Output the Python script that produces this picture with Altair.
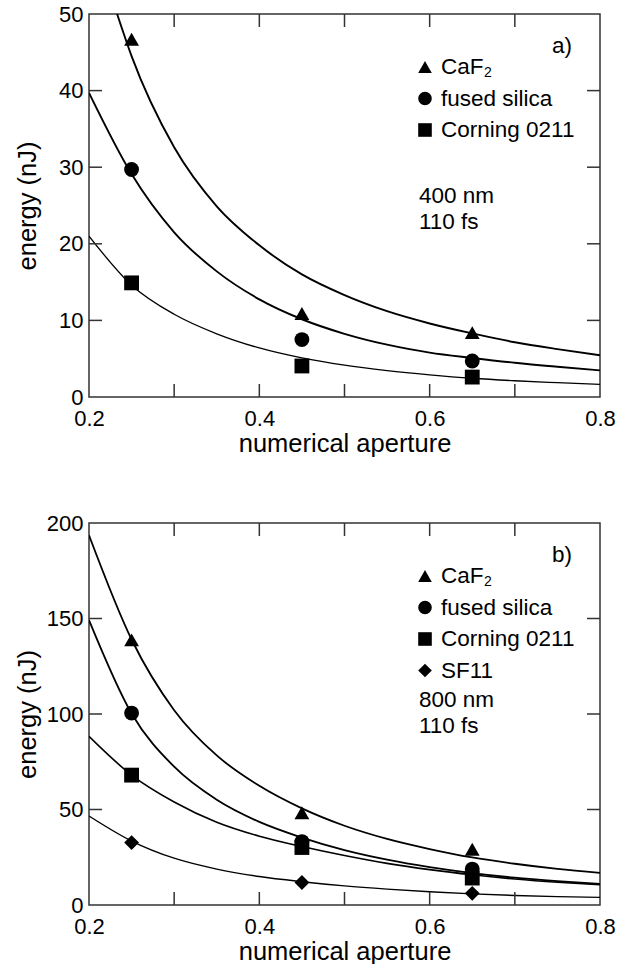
import altair as alt
import pandas as pd

FONT = "Liberation Sans"

# ---------------- data ----------------
series_names = ["CaF2", "fused silica", "Corning 0211", "SF11"]
legend_labels = ["CaF", "fused silica", "Corning 0211", "SF11"]
shapes = ["triangle-up", "circle", "square", "diamond"]

meas_x = [0.25, 0.45, 0.65]

# panel a) 400 nm
a_caf2_pts = [46.7, 10.9, 8.4]
a_fs_pts = [29.7, 7.5, 4.7]
a_cor_pts = [14.9, 4.05, 2.6]

a_caf2_fit_x = [0.233, 0.25, 0.30, 0.35, 0.40, 0.45, 0.50, 0.55, 0.60, 0.65, 0.70, 0.75, 0.80]
a_caf2_fit_y = [50.0, 44.5, 32.6, 24.9, 19.8, 16.0, 13.3, 11.2, 9.6, 8.3, 7.15, 6.25, 5.45]
fit_x = [0.20, 0.25, 0.30, 0.35, 0.40, 0.45, 0.50, 0.55, 0.60, 0.65, 0.70, 0.75, 0.80]
a_fs_fit_y = [39.7, 29.1, 21.5, 16.4, 12.75, 10.15, 8.25, 6.83, 5.8, 5.1, 4.47, 3.95, 3.48]
a_cor_fit_y = [21.0, 14.6, 10.8, 8.25, 6.4, 5.1, 4.15, 3.45, 2.9, 2.45, 2.12, 1.87, 1.65]

# panel b) 800 nm
b_caf2_pts = [138.8, 48.3, 29.2]
b_fs_pts = [100.5, 33.2, 18.8]
b_cor_pts = [68.0, 30.1, 14.1]
b_sf11_pts = [32.7, 11.8, 6.1]

b_caf2_fit_y = [193.6, 139.0, 102.0, 78.3, 62.4, 50.6, 41.5, 34.6, 29.3, 24.9, 21.6, 18.9, 16.8]
b_fs_fit_y = [149.2, 100.3, 72.4, 55.1, 43.5, 35.3, 28.7, 23.7, 19.8, 16.7, 14.3, 12.5, 11.0]
b_cor_fit_y = [88.3, 68.0, 53.9, 43.3, 36.0, 30.6, 25.9, 21.8, 18.5, 15.8, 13.6, 11.9, 10.6]
b_sf11_fit_y = [46.6, 33.5, 24.5, 18.8, 14.9, 12.2, 10.0, 8.3, 6.9, 5.8, 5.0, 4.4, 4.0]

x_labels = [0.2, 0.4, 0.6, 0.8]
x_inner_ticks = [0.3, 0.4, 0.5, 0.6, 0.7]
a_y_labels = [0, 10, 20, 30, 40, 50]
a_y_inner = [10, 20, 30, 40]
b_y_labels = [0, 50, 100, 150, 200]
b_y_inner = [50, 100, 150]

W = 511
TICK = 13
FRAME = "#333333"
LEG_FS = 22.5


def make_panel(H, ymax, ylabels, yinner, fits, pts, tag, note, legend_n):
    xs = alt.Scale(domain=[0.2, 0.8], nice=False, zero=False)
    ys = alt.Scale(domain=[0, ymax], nice=False, zero=False)
    xaxis = alt.Axis(values=x_labels, format=".1f", title="numerical aperture",
                     titleX=W / 2, titleY=46, titleAlign="center", titleBaseline="middle",
                     labelBaseline="middle", labelPadding=21, labelFlush=False,
                     labelOverlap=False)
    yaxis = alt.Axis(values=ylabels, format="d", title="energy (nJ)",
                     titleX=-62, titleY=H / 2, titleAngle=270, titleAlign="center",
                     titleBaseline="middle", labelPadding=6, labelFlush=False,
                     labelOverlap=False)

    def X():
        return alt.X("x:Q", scale=xs, axis=xaxis)

    def Y():
        return alt.Y("y:Q", scale=ys, axis=yaxis)

    layers = []
    # fitted curves
    for (fx, fy, sw) in fits:
        df = pd.DataFrame({"x": fx, "y": fy})
        layers.append(
            alt.Chart(df).mark_line(color="black", strokeWidth=sw, interpolate="monotone",
                                    clip=True).encode(x=X(), y=Y())
        )
    # measured points
    for name, vals in pts:
        df = pd.DataFrame({"x": meas_x, "y": vals, "s": name})
        layers.append(
            alt.Chart(df).mark_point(filled=True, color="black", opacity=1, size=220).encode(
                x=X(), y=Y(),
                shape=alt.Shape("s:N", scale=alt.Scale(domain=series_names, range=shapes),
                                legend=None)
            )
        )
    # inward ticks
    ydf = pd.DataFrame({"y": yinner})
    xdf = pd.DataFrame({"x": x_inner_ticks})
    layers.append(alt.Chart(ydf).mark_rule(color=FRAME, strokeWidth=1.5).encode(
        y=Y(), x=alt.value(0), x2=alt.value(TICK)))
    layers.append(alt.Chart(ydf).mark_rule(color=FRAME, strokeWidth=1.5).encode(
        y=Y(), x=alt.value(W - TICK), x2=alt.value(W)))
    layers.append(alt.Chart(xdf).mark_rule(color=FRAME, strokeWidth=1.5).encode(
        x=X(), y=alt.value(H - TICK), y2=alt.value(H)))
    layers.append(alt.Chart(xdf).mark_rule(color=FRAME, strokeWidth=1.5).encode(
        x=X(), y=alt.value(0), y2=alt.value(TICK)))

    # panel tag
    layers.append(alt.Chart(pd.DataFrame({"t": [tag]})).mark_text(
        font=FONT, fontSize=LEG_FS, align="right", baseline="middle", color="black").encode(
        text="t:N", x=alt.value(483), y=alt.value(32)))

    # legend
    leg_y0 = 53
    step = 31.5
    for i in range(legend_n):
        yy = leg_y0 + i * step
        layers.append(alt.Chart(pd.DataFrame({"t": [legend_labels[i]]})).mark_point(
            filled=True, color="black", opacity=1, size=185, shape=shapes[i]).encode(
            x=alt.value(336), y=alt.value(yy)))
        layers.append(alt.Chart(pd.DataFrame({"t": [legend_labels[i]]})).mark_text(
            font=FONT, fontSize=LEG_FS, align="left", baseline="middle", color="black").encode(
            text="t:N", x=alt.value(352), y=alt.value(yy)))
        if i == 0:
            layers.append(alt.Chart(pd.DataFrame({"t": ["2"]})).mark_text(
                font=FONT, fontSize=14, align="left", baseline="middle", color="black").encode(
                text="t:N", x=alt.value(395), y=alt.value(yy + 6)))
    # condition text
    for j, line in enumerate(note):
        ny = (182 if legend_n == 3 else 177) + j * 26
        layers.append(alt.Chart(pd.DataFrame({"t": [line]})).mark_text(
            font=FONT, fontSize=LEG_FS, align="left", baseline="middle", color="black").encode(
            text="t:N", x=alt.value(330), y=alt.value(ny)))

    return alt.layer(*layers).properties(width=W, height=H)


panel_a = make_panel(
    383, 50, a_y_labels, a_y_inner,
    [(a_caf2_fit_x, a_caf2_fit_y, 1.9), (fit_x, a_fs_fit_y, 1.9), (fit_x, a_cor_fit_y, 1.3)],
    [("CaF2", a_caf2_pts), ("fused silica", a_fs_pts), ("Corning 0211", a_cor_pts)],
    "a)", ["400 nm", "110 fs"], 3)

panel_b = make_panel(
    382, 200, b_y_labels, b_y_inner,
    [(fit_x, b_caf2_fit_y, 1.8), (fit_x, b_fs_fit_y, 1.8), (fit_x, b_cor_fit_y, 1.6),
     (fit_x, b_sf11_fit_y, 1.4)],
    [("CaF2", b_caf2_pts), ("fused silica", b_fs_pts), ("Corning 0211", b_cor_pts),
     ("SF11", b_sf11_pts)],
    "b)", ["800 nm", "110 fs"], 4)

chart = alt.vconcat(panel_a, panel_b, spacing=53).properties(
    padding={"left": 14, "top": 2, "right": 5, "bottom": 0},
    background="white",
).configure_view(
    stroke=FRAME, strokeWidth=1.5
).configure_axis(
    grid=False, ticks=False, tickSize=0, domain=False,
    labelFont=FONT, labelFontSize=22, labelColor="black",
    titleFont=FONT, titleFontSize=25.5, titleColor="black", titleFontWeight="normal",
)

chart.save("out.html", embed_options={"renderer": "svg", "actions": False})
